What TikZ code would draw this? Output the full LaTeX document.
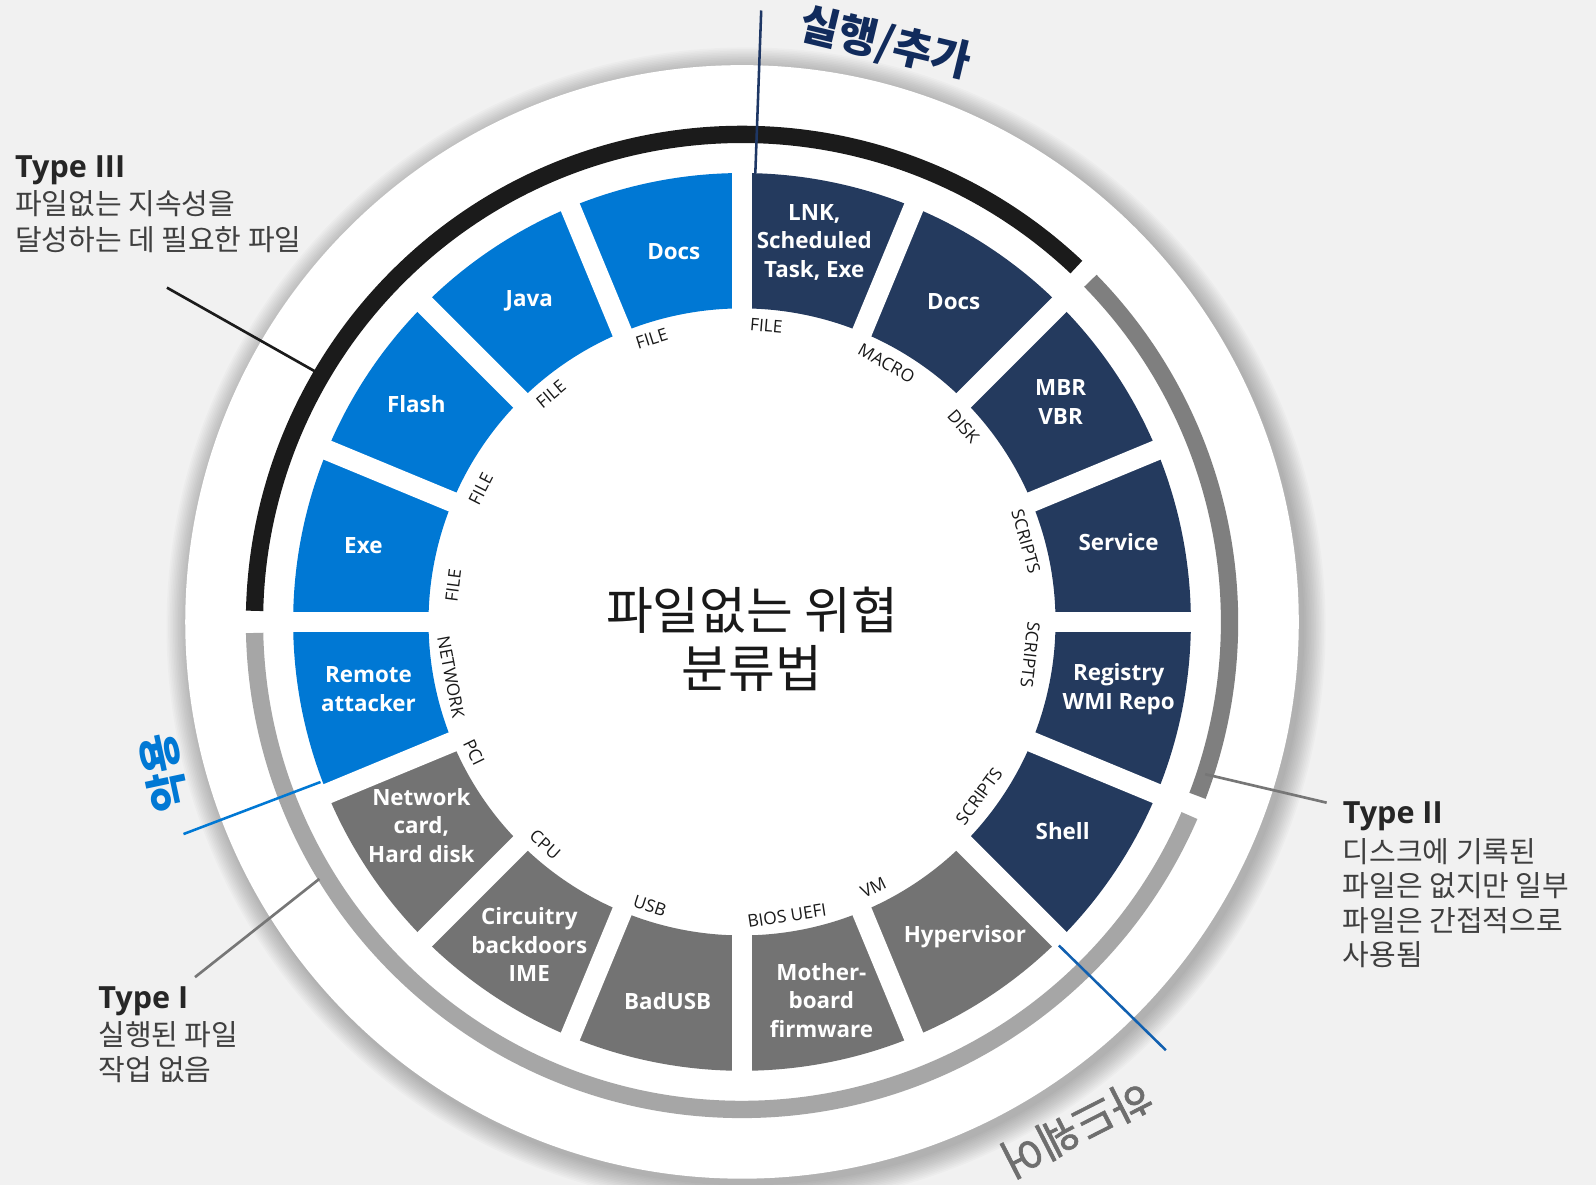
\documentclass[tikz,border=0pt]{standalone}
\usepackage{fontspec}
\setmainfont{Open Sans}
\newfontfamily\kr{Noto Sans CJK KR}
\newfontfamily\krmed[FakeBold=1.4]{Noto Sans CJK KR}
\usetikzlibrary{calc}

\definecolor{bg}{HTML}{F1F1F1}
\definecolor{segblue}{HTML}{0078D4}
\definecolor{segnavy}{HTML}{243A5E}
\definecolor{seggray}{HTML}{737373}
\definecolor{arcblack}{HTML}{1B1B1B}
\definecolor{arcmid}{HTML}{7F7F7F}
\definecolor{arclight}{HTML}{A6A6A6}
\definecolor{linenavy}{HTML}{1E3765}
\definecolor{linehw}{HTML}{1160B0}
\definecolor{titlenavy}{HTML}{112B5C}
\definecolor{hwgray}{HTML}{6E6E6E}
\definecolor{headtxt}{HTML}{262626}
\definecolor{desctxt}{HTML}{3F3F3F}
\definecolor{leadgray}{HTML}{767676}

\tikzset{
  seglabel/.style={text=white, font=\fontsize{22}{28}\selectfont\bfseries, align=center, inner sep=0pt},
  ringlabel/.style={text=black!90, font=\fontsize{17}{20}\selectfont, inner sep=0pt},
  typehead/.style={anchor=base west, inner sep=0pt, text=headtxt, font=\fontsize{30}{34}\selectfont\bfseries},
  typedesc/.style={anchor=base west, inner sep=0pt, text=desctxt, font=\kr\fontsize{28.5}{34}\selectfont},
  bigcat/.style={inner sep=0pt, font=\kr\fontsize{42}{48}\selectfont\bfseries},
  bigcatlight/.style={inner sep=0pt, font=\krmed\fontsize{43}{48}\selectfont},
  centertitle/.style={inner sep=0pt, text=black!90, font=\kr\fontsize{50}{56}\selectfont},
  gapline/.style={white, line width=20pt},
  catarc/.style={line width=17pt},
  leader/.style={line width=2.6pt},
  divider/.style={line width=2.5pt},
}

\begin{document}
\begin{tikzpicture}[x=1pt,y=1pt]
\useasboundingbox (-729,-553) rectangle (839,611);
\fill[bg] (-729,-553) rectangle (839,611);

% shadow of the white disk
\foreach \k in {1,...,14}
  \fill[black, opacity=0.018] (4,-5) circle ({547+1.6*\k});
\fill[white] (0,0) circle (547);

% segments
\foreach \a/\c in {90/segblue, 112.5/segblue, 135/segblue, 157.5/segblue, 180/segblue,
                   202.5/seggray, 225/seggray, 247.5/seggray, 270/seggray, 292.5/seggray,
                   315/segnavy, 337.5/segnavy, 0/segnavy, 22.5/segnavy, 45/segnavy, 67.5/segnavy}
  \fill[\c] (\a:308) arc[start angle=\a, delta angle=22.5, radius=308]
     -- ({\a+22.5}:441) arc[start angle={\a+22.5}, delta angle=-22.5, radius=441] -- cycle;
\foreach \a in {0,22.5,...,337.5}
  \draw[gapline] (0,0) -- (\a:455);

% category arcs
\draw[catarc, arcblack] (46.7:479) arc[start angle=46.7, end angle=178.7, radius=479];
\draw[catarc, arcmid] (-20.9:479) arc[start angle=-20.9, end angle=44.4, radius=479];
\draw[catarc, arclight] (181.3:479) arc[start angle=181.3, end angle=336.6, radius=479];

% dividers
\coordinate (d1a) at (88.3:441);
\coordinate (d1b) at (88.2:601);
\draw[divider, linenavy] (d1a) -- (d1b);
\coordinate (d2a) at (200.8:443);
\coordinate (d2b) at (200.8:587);
\draw[divider, segblue] (d2a) -- (d2b);
\coordinate (d3a) at (-45.6:445);
\coordinate (d3b) at (-45.3:592);
\draw[divider, linehw] (d3a) -- (d3b);

% category titles
\node[bigcat, text=titlenavy, rotate=-13.5] (cat1) at (141,568) {실행/추가};
\node[bigcat, text=segblue, rotate=102] (cat2) at (-568,-148) {악용};
\node[bigcatlight, text=hwgray, rotate=207] (cat3) at (328,-497) {하드웨어};

% segment labels
\node[seglabel] (s1) at (-67,364) {Docs};
\node[seglabel] (s2) at (-209,315) {Java};
\node[seglabel] (s3) at (-320,214) {Flash};
\node[seglabel] (s4) at (-372,75) {Exe};
\node[seglabel] (s5) at (-367,-66) {Remote\\attacker};
\node[seglabel] (s6) at (-315,-200) {Network\\card,\\Hard disk};
\node[seglabel] (s7) at (-209,-317) {Circuitry\\backdoors\\IME};
\node[seglabel] (s8) at (-73,-373) {BadUSB};
\node[seglabel] (s9) at (78,-372) {Mother-\\board\\firmware};
\node[seglabel] (s10) at (219,-309) {Hypervisor};
\node[seglabel] (s11) at (315,-206) {Shell};
\node[seglabel] (s12) at (370,-66) {Registry\\WMI Repo};
\node[seglabel] (s13) at (370,78) {Service};
\node[seglabel] (s14) at (313,216) {MBR\\VBR};
\node[seglabel] (s15) at (208,315) {Docs};
\node[seglabel] (s16) at (71,373) {LNK,\\Scheduled\\Task, Exe};

% ring labels
\node[ringlabel, rotate=17.7] (r1) at (107.7:292) {FILE};
\node[ringlabel, rotate=40] (r2) at (130:292) {FILE};
\node[ringlabel, rotate=63] (r3) at (153:288) {FILE};
\node[ringlabel, rotate=82.8] (r4) at (172.8:286) {FILE};
\node[ringlabel, rotate=280.7] (r5) at (190.7:291) {NETWORK};
\node[ringlabel, rotate=296] (r6) at (206:293) {PCI};
\node[ringlabel, rotate=318.5] (r7) at (228.5:292) {CPU};
\node[ringlabel, rotate=342] (r8) at (252:293) {USB};
\node[ringlabel, rotate=8.7] (r9) at (-81.3:292) {BIOS UEFI};
\node[ringlabel, rotate=26.3] (r10) at (-63.7:291) {VM};
\node[ringlabel, rotate=53.7] (r11) at (-36.3:289) {SCRIPTS};
\node[ringlabel, rotate=-96.5] (r12) at (-6.5:285) {SCRIPTS};
\node[ringlabel, rotate=-74.2] (r13) at (15.8:290) {SCRIPTS};
\node[ringlabel, rotate=-48.6] (r14) at (41.4:290) {DISK};
\node[ringlabel, rotate=-29.2] (r15) at (60.8:291) {MACRO};
\node[ringlabel, rotate=-4.7] (r16) at (85.3:292) {FILE};

% center title
\node[centertitle] (title1) at (10,11) {파일없는 위협};
\node[centertitle] (title2) at (9.5,-46) {분류법};

% type blocks
\node[typehead] (t3h) at (-714.3,437) {Type III};
\node[typedesc] (t3l1) at (-714.3,400.5) {파일없는 지속성을};
\node[typedesc] (t3l2) at (-714.3,365.2) {달성하는 데 필요한 파일};

\node[typehead] (t2h) at (590,-197.8) {Type II};
\node[typedesc] (t2l1) at (590,-236.3) {디스크에 기록된};
\node[typedesc] (t2l2) at (590,-269.6) {파일은 없지만 일부};
\node[typedesc] (t2l3) at (590,-304.1) {파일은 간접적으로};
\node[typedesc] (t2l4) at (590,-337.9) {사용됨};

\node[typehead] (t1h) at (-632.5,-379.5) {Type I};
\node[typedesc] (t1l1) at (-632.5,-416.4) {실행된 파일};
\node[typedesc] (t1l2) at (-632.5,-450.8) {작업 없음};

% leaders
\coordinate (t3a) at (149.6:486);
\coordinate (t3b) at (-565,328.4);
\draw[leader, arcblack] (t3a) -- (t3b);
\coordinate (t2a) at (-18.2:479);
\coordinate (t2b) at (574.4,-177.6);
\draw[leader, leadgray] (t2a) -- (t2b);
\coordinate (t1a) at (211.3:486);
\coordinate (t1b) at (-537.4,-349);
\draw[leader, leadgray] (t1a) -- (t1b);
\end{tikzpicture}
\end{document}
